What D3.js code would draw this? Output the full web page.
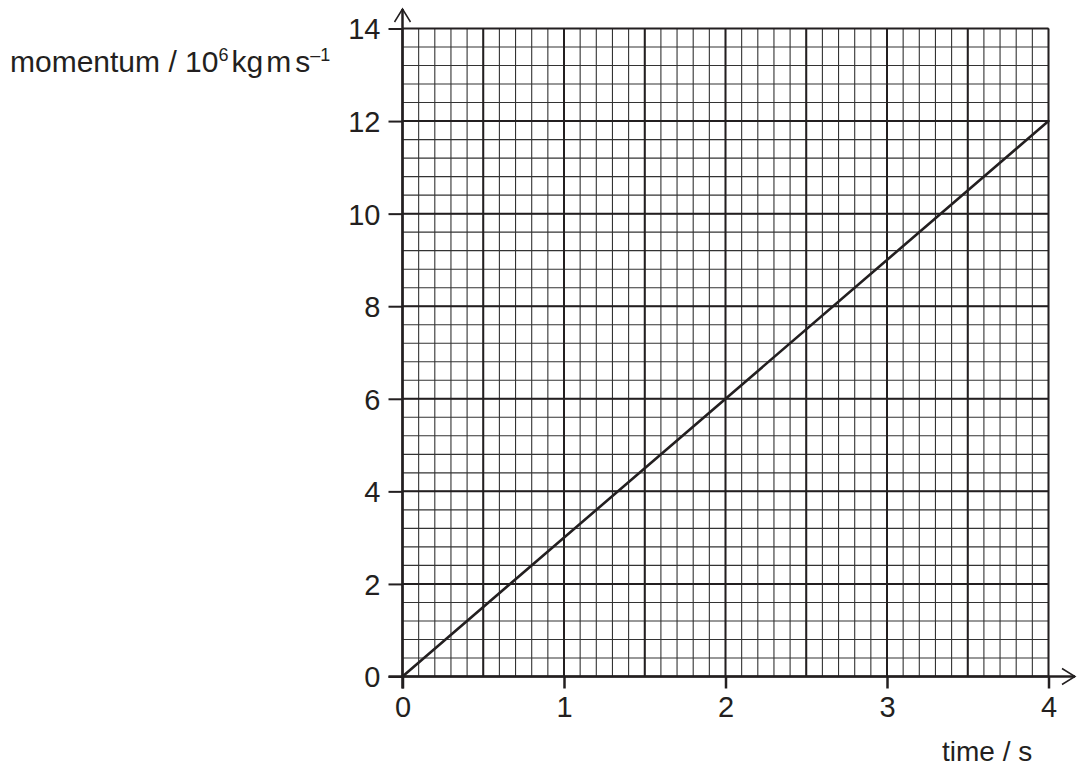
<!DOCTYPE html>
<html>
<head>
<meta charset="utf-8">
<script src="https://cdn.jsdelivr.net/npm/d3@7"></script>
<style>
  html, body { margin: 0; padding: 0; background: #fff; }
  svg { display: block; }
  text { font-family: "Liberation Sans", Arial, sans-serif; fill: #231f20; }
</style>
</head>
<body>
<svg id="chart" width="1078" height="766"></svg>
<script>
// ---- data ----
const timeTicks = [0, 1, 2, 3, 4];
const momentumTicks = [0, 2, 4, 6, 8, 10, 12, 14];
const lineTime = [0, 4];
const lineMomentum = [0, 12];
const xTitle = "time / s";

// ---- layout ----
const svg = d3.select("#chart");
const x = d3.scaleLinear().domain([0, 4]).range([402.5, 1048.5]);
const y = d3.scaleLinear().domain([0, 14]).range([676.5, 28.5]);
const ink = "#231f20";

const grid = svg.append("g");
// minor grid
const minorX = d3.range(0, 40 + 1).map(i => i / 10);
const minorY = d3.range(0, 35 + 1).map(i => i * 0.4);
grid.selectAll(".mx").data(minorX).join("line")
  .attr("x1", d => x(d)).attr("x2", d => x(d))
  .attr("y1", y(0)).attr("y2", y(14))
  .attr("stroke", "#333").attr("stroke-width", 1.1);
grid.selectAll(".my").data(minorY).join("line")
  .attr("y1", d => y(d)).attr("y2", d => y(d))
  .attr("x1", x(0)).attr("x2", x(4))
  .attr("stroke", "#333").attr("stroke-width", 1.1);
// major grid
const majorX = d3.range(0, 9).map(i => i * 0.5);
grid.selectAll(".Mx").data(majorX).join("line")
  .attr("x1", d => x(d)).attr("x2", d => x(d))
  .attr("y1", y(0)).attr("y2", y(14))
  .attr("stroke", ink).attr("stroke-width", 2);
grid.selectAll(".My").data(momentumTicks).join("line")
  .attr("y1", d => y(d)).attr("y2", d => y(d))
  .attr("x1", x(0)).attr("x2", x(4))
  .attr("stroke", ink).attr("stroke-width", 2);

// axes via d3 axis generators
const xAxis = d3.axisBottom(x).tickValues(timeTicks).tickSize(12).tickPadding(8)
  .tickFormat(d3.format("d"));
const gx = svg.append("g").attr("transform", `translate(0,${y(0)})`).call(xAxis);
gx.select(".domain").remove();
gx.selectAll(".tick line").attr("stroke", ink).attr("stroke-width", 2.5);
gx.selectAll(".tick text").attr("font-size", 29).attr("fill", ink)
  .attr("font-family", '"Liberation Sans", Arial, sans-serif');

const yAxis = d3.axisLeft(y).tickValues(momentumTicks).tickSize(14).tickPadding(8)
  .tickFormat(d3.format("d"));
const gy = svg.append("g").attr("transform", `translate(${x(0)},0)`).call(yAxis);
gy.select(".domain").remove();
gy.selectAll(".tick line").attr("stroke", ink).attr("stroke-width", 2);
gy.selectAll(".tick text").attr("font-size", 29).attr("fill", ink)
  .attr("font-family", '"Liberation Sans", Arial, sans-serif')
  .attr("dy", "0.36em");

// axis lines with open arrowheads
svg.append("line").attr("x1", x(0)).attr("x2", x(0)).attr("y1", y(0) + 12).attr("y2", 9)
  .attr("stroke", ink).attr("stroke-width", 2.5);
svg.append("path").attr("d", `M${x(0) - 8},22 L${x(0)},9 L${x(0) + 8},22`)
  .attr("fill", "none").attr("stroke", ink).attr("stroke-width", 1.5);
svg.append("line").attr("x1", x(0) - 14).attr("x2", 1075).attr("y1", y(0)).attr("y2", y(0))
  .attr("stroke", ink).attr("stroke-width", 2.5);
svg.append("path").attr("d", `M1062,${y(0) - 8} L1075,${y(0)} L1062,${y(0) + 8}`)
  .attr("fill", "none").attr("stroke", ink).attr("stroke-width", 1.5);

// data line
const lineData = lineTime.map((t, i) => [t, lineMomentum[i]]);
svg.append("path").datum(lineData)
  .attr("d", d3.line().x(d => x(d[0])).y(d => y(d[1])))
  .attr("fill", "none").attr("stroke", ink).attr("stroke-width", 2.6)
  .attr("stroke-linecap", "round");

// axis titles
svg.append("text").attr("x", 942).attr("y", 761)
  .attr("font-size", 28).text(xTitle);

const yt = svg.append("text").attr("x", 10).attr("y", 72).attr("font-size", 30);
yt.append("tspan").text("momentum / 10");
yt.append("tspan").attr("font-size", 18).attr("dy", -11).text("6");
yt.append("tspan").attr("dy", 11).attr("dx", 3).text("kg");
yt.append("tspan").attr("dx", 3).text("m");
yt.append("tspan").attr("dx", 4).text("s");
yt.append("tspan").attr("font-size", 18).attr("dy", -11).text("–1");
</script>
</body>
</html>
